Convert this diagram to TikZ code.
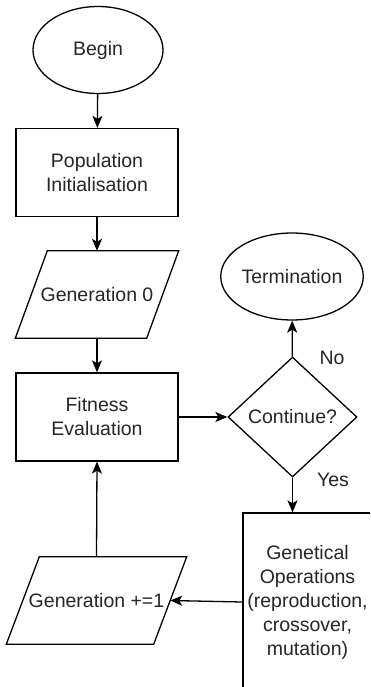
\documentclass[tikz,border=0pt]{standalone}
\usepackage{fontspec}
\setmainfont{Liberation Sans}
\usetikzlibrary{shapes.geometric,arrows.meta}
\begin{document}
\begin{tikzpicture}[x=1pt,y=-1pt,
  every node/.style={font=\fontsize{19.5}{24}\selectfont, text=black!85, align=center, inner sep=0pt},
  shp/.style={draw=black, line width=1.3pt},
  oval/.style={shp, ellipse, minimum width=130pt, minimum height=87pt},
  boxnode/.style={shp, rectangle, minimum width=162pt, minimum height=88pt},
  para/.style={rectangle, minimum height=87pt},
  paraline/.style={draw=black, line width=1.3pt, line join=miter},
  conn/.style={line width=1.3pt, -{Stealth[length=12pt,width=10pt,inset=3pt]}},
  lbl/.style={font=\fontsize{19.5}{24}\selectfont}
]
\useasboundingbox (0,0) rectangle (370,687);
\clip (0,0) rectangle (370,687);
\fill[white] (0,0) rectangle (370,687);

\node[oval] (begin) at (98,50) {Begin};
\node[boxnode] (pop) at (97,172.5) {Population\\Initialisation};
\node[para, minimum width=131pt] (gen0) at (97,294.5) {Generation 0};
\draw[paraline] ([xshift=16pt]gen0.north west) -- ([xshift=16pt]gen0.north east) -- ([xshift=-16pt]gen0.south east) -- ([xshift=-16pt]gen0.south west) -- cycle;
\node[boxnode] (fit) at (97,417) {Fitness\\Evaluation};
\node[shp, diamond, aspect=1.075, minimum width=129pt, minimum height=120pt] (cont) at (292.5,417) {Continue?};
\node[oval] (term) at (292,276.5) {Termination};
\node[shp, rectangle, minimum width=129pt, minimum height=178pt] (gop) at (307.5,602) {Genetical\\Operations\\(reproduction,\\crossover,\\mutation)};
\node[para, minimum width=147pt] (gen1) at (96.5,600.5) {Generation +=1};
\draw[paraline] ([xshift=16.5pt]gen1.north west) -- ([xshift=16.5pt]gen1.north east) -- ([xshift=-16.5pt]gen1.south east) -- ([xshift=-16.5pt]gen1.south west) -- cycle;

\node[lbl] (no) at (332,358) {No};
\node[lbl] (yes) at (333,480) {Yes};

\draw[conn] (begin) -- (pop);
\draw[conn] (pop) -- (gen0);
\draw[conn] (gen0) -- (fit);
\draw[conn] (fit) -- (cont);
\draw[conn] (cont) -- (term);
\draw[conn] (cont.south) -- (cont.south |- gop.north);
\draw[conn] (gop.west) -- (gen1.east);
\draw[conn] (gen1.north) -- (fit.south);
\end{tikzpicture}
\end{document}
